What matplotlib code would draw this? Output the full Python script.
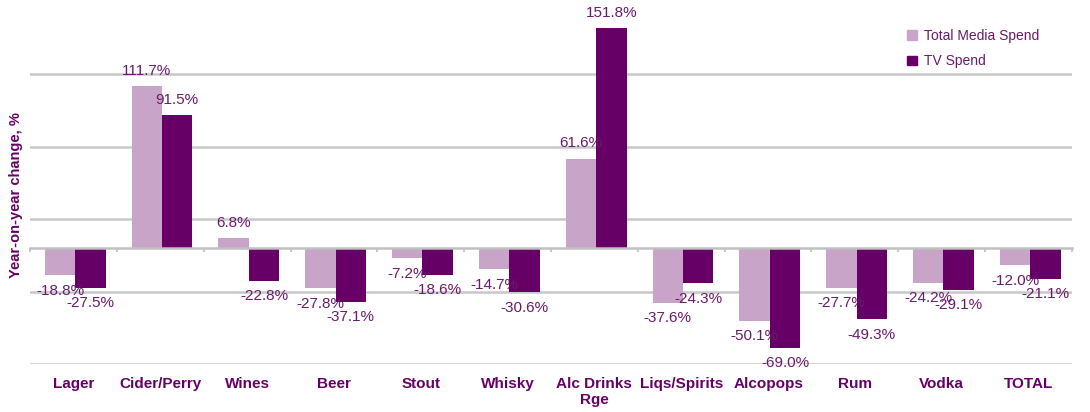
import numpy as np
import matplotlib
matplotlib.use('Agg')
import matplotlib.pyplot as plt
from matplotlib.transforms import blended_transform_factory, offset_copy
from matplotlib.patches import Patch

plt.rcParams['font.family'] = ['Liberation Sans', 'DejaVu Sans']

categories = ['Lager', 'Cider/Perry', 'Wines', 'Beer', 'Stout', 'Whisky', 'Alc Drinks\nRge',
              'Liqs/Spirits', 'Alcopops', 'Rum', 'Vodka', 'TOTAL']
total_media = [-18.8, 111.7, 6.8, -27.8, -7.2, -14.7, 61.6, -37.6, -50.1, -27.7, -24.2, -12.0]
tv_spend = [-27.5, 91.5, -22.8, -37.1, -18.6, -30.6, 151.8, -24.3, -69.0, -49.3, -29.1, -21.1]

light = '#c8a5c8'
dark = '#660066'
txt = '#6a1a6a'

fig = plt.figure(figsize=(10.9, 4.12), dpi=100)
ax = fig.add_axes([30 / 1090, (412 - 364) / 412, 1042 / 1090, 362.5 / 412])

x = np.arange(len(categories))
w = 0.35
b1 = ax.bar(x - w / 2 + 0.02, total_media, w, color=light, zorder=3)
b2 = ax.bar(x + w / 2 + 0.02, tv_spend, w, color=dark, zorder=3)

ax.set_xlim(-0.5, len(categories) - 0.5)
ax.set_ylim(-80, 170)
ax.set_yticks([-80, -30, 20, 70, 120])
ax.yaxis.grid(True, color='#c8c8c8', linewidth=1.8, zorder=0)
ax.tick_params(axis='y', left=False, labelleft=False)
for s in ['left', 'right', 'top']:
    ax.spines[s].set_visible(False)
ax.spines['bottom'].set_position(('data', 0))
ax.spines['bottom'].set_color('#c0c0c0')
ax.spines['bottom'].set_linewidth(1.8)
ax.spines['bottom'].set_zorder(4)
ax.set_xticks(np.arange(-0.5, len(categories), 1))
ax.tick_params(axis='x', direction='out', length=3, width=1.2, color='#c0c0c0', labelbottom=False)

# category names below the plot
trans = blended_transform_factory(ax.transData, ax.transAxes)
for i, c in enumerate(categories):
    ax.text(i, -0.036, c, transform=trans, ha='center', va='top', fontsize=11,
            fontweight='bold', color=dark, linespacing=1.15)

# value labels just beyond the bar end
for bars, vals in [(b1, total_media), (b2, tv_spend)]:
    for r, v in zip(bars, vals):
        off = 11 if v >= 0 else -11
        t = offset_copy(ax.transData, fig=fig, x=0, y=off, units='points')
        ax.text(r.get_x() + r.get_width() / 2, v, f'{v:.1f}%', transform=t,
                ha='center', va='center', fontsize=11, color=txt, zorder=5)

ax.set_ylabel('Year-on-year change, %', fontsize=10.5, fontweight='bold', color=dark)
ax.yaxis.set_label_coords(-0.007, 0.465)

handles = [Patch(color=light, label='Total Media Spend'), Patch(color=dark, label='TV Spend')]
leg = fig.legend(handles=handles, loc='upper left', bbox_to_anchor=(903 / 1090, 1 - 25 / 412),
                 frameon=True, fontsize=10, handlelength=0.7, handleheight=0.7,
                 handletextpad=0.5, labelspacing=0.8, borderpad=0.3, borderaxespad=0)
leg.get_frame().set_facecolor('white')
leg.get_frame().set_edgecolor('none')
leg.get_frame().set_alpha(1)
for t in leg.get_texts():
    t.set_color(txt)

fig.savefig('out.png', dpi=100)
